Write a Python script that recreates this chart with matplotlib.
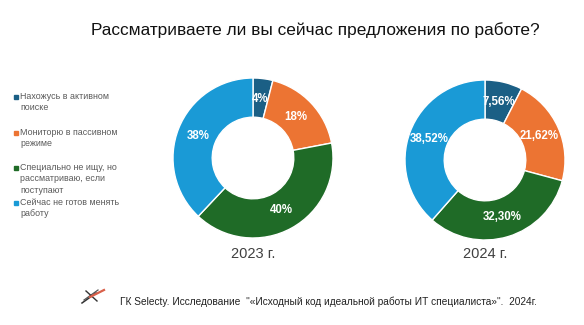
import matplotlib.pyplot as plt
from matplotlib.lines import Line2D

plt.rcParams['font.family'] = ['Liberation Sans', 'DejaVu Sans']

# Survey answers and shares
categories = ["Нахожусь в активном\nпоиске",
              "Мониторю в пассивном\nрежиме",
              "Специально не ищу, но\nрассматриваю, если\nпоступают",
              "Сейчас не готов менять\nработу"]
values_2023 = [4, 18, 40, 38]
values_2024 = [7.56, 21.62, 32.30, 38.52]
labels_2023 = ["4%", "18%", "40%", "38%"]
labels_2024 = ["7,56%", "21,62%", "32,30%", "38,52%"]
years = ["2023 г.", "2024 г."]

colors = ['#1b5f85', '#ec7433', '#1f6b27', '#1a9ad6']

W, H = 584, 325
fig = plt.figure(figsize=(W / 100, H / 100), dpi=100)

fig.text(315 / W, 1 - 30 / H, "Рассматриваете ли вы сейчас предложения по работе?",
         ha='center', va='center', fontsize=12.4, color='#111111')


def donut(cx, cy, r, vals, labs, year):
    ax = fig.add_axes([(cx - r) / W, 1 - (cy + r) / H, 2 * r / W, 2 * r / H])
    wedges, texts = ax.pie(vals, colors=colors, startangle=90, counterclock=False,
                           radius=1, labels=labs, labeldistance=0.74,
                           wedgeprops=dict(width=0.49, edgecolor='white', linewidth=1))
    for t in texts:
        t.set_ha('center')
        t.set_va('center')
        t.set_color('white')
        t.set_fontweight('bold')
        t.set_fontsize(8.3)
    ax.set_xlim(-1, 1)
    ax.set_ylim(-1, 1)
    fig.text(cx / W, 1 - 254 / H, year, ha='center', va='center',
             fontsize=10.5, color='#404040')


donut(253, 158, 80, values_2023, labels_2023, years[0])
donut(485, 160, 80, values_2024, labels_2024, years[1])

# legend on the left
legend_y = [97, 133, 168, 203]
for cat, col, y in zip(categories, colors, legend_y):
    fig.patches.append(plt.Rectangle((14 / W, 1 - (y + 2) / H), 4 / W, 4 / H,
                                     transform=fig.transFigure, color=col))
    fig.text(20 / W, 1 - (y - 5) / H, cat, ha='left', va='top', fontsize=6.4,
             color='#595959', linespacing=1.35)

# logo
fig.add_artist(Line2D([82 / W, 96 / W], [1 - 303 / H, 1 - 293 / H], color='#333333', lw=1.1))
fig.add_artist(Line2D([84 / W, 98 / W], [1 - 300 / H, 1 - 290 / H], color='#555555', lw=0.9))
fig.add_artist(Line2D([86 / W, 97 / W], [1 - 291 / H, 1 - 301 / H], color='#333333', lw=1.0))
fig.add_artist(Line2D([90 / W, 104 / W], [1 - 297 / H, 1 - 290 / H], color='#d9604a', lw=1.6))

fig.text(120 / W, 1 - 302 / H,
         "ГК Selecty. Исследование  \"«Исходный код идеальной работы ИТ специалиста»\".  2024г.",
         ha='left', va='center', fontsize=7.3, color='#222222')

fig.savefig("out.png", dpi=100, facecolor='white')
